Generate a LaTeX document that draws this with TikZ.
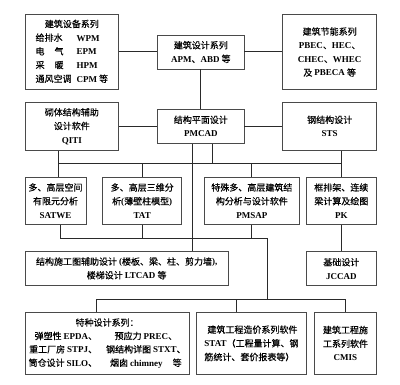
\documentclass[tikz,border=0pt]{standalone}
\usepackage{fontspec}
\setmainfont{Noto Sans CJK SC}[FakeBold=0.35]
\newfontfamily\latinfont{Liberation Serif}
\newcommand\ltn[1]{{\latinfont\bfseries #1}}
\definecolor{boxc}{HTML}{4A4A4A}
\definecolor{linec}{HTML}{2A2A2A}
\begin{document}
\begin{tikzpicture}[x=1pt,y=-1pt,
  box/.style={draw=boxc, line width=0.9pt, align=center, inner sep=0pt,
    font=\fontsize{9}{13.7}\selectfont},
  wire/.style={draw=linec, line width=1pt}]
\useasboundingbox[fill=white] (0,0) rectangle (400,385);

% row 1
\node[box, minimum width=93.7pt, minimum height=74.6pt] (A) at (71.85,52)
  {\begin{tabular}{@{}l@{\hspace{5pt}}l@{}}\multicolumn{2}{c}{建筑设备系列}\\
   给排水&\ltn{WPM}\\ 电\hspace{10pt}气&\ltn{EPM}\\ 采\hspace{10pt}暖&\ltn{HPM}\\
   通风空调&\ltn{CPM} 等\end{tabular}};
\node[box, minimum width=86.3pt, minimum height=34pt] (B) at (200.85,52)
  {建筑设计系列\\\ltn{APM}、\ltn{ABD} 等};
\node[box, minimum width=94pt, minimum height=74.6pt] (C) at (329.7,52)
  {建筑节能系列\\\ltn{PBEC}、\ltn{HEC}、\\\ltn{CHEC}、\ltn{WHEC}\\及 \ltn{PBECA} 等};

% row 2
\node[box, minimum width=93.7pt, minimum height=47.7pt] (D) at (71.85,126.3)
  {砌体结构辅助\\设计软件\\\ltn{QITI}};
\node[box, minimum width=86.3pt, minimum height=34pt] (E) at (200.85,126.3)
  {结构平面设计\\\ltn{PMCAD}};
\node[box, minimum width=94pt, minimum height=47.7pt] (F) at (329.7,126.3)
  {钢结构设计\\\ltn{STS}};

% row 3
\node[box, minimum width=61pt, minimum height=47pt] (G) at (55.5,200.8)
  {多、高层空间\\有限元分析\\\ltn{SATWE}};
\node[box, minimum width=79pt, minimum height=47pt] (H) at (142.2,200.8)
  {多、高层三维分\\析\ltn{(}薄壁柱模型\ltn{)}\\\ltn{TAT}};
\node[box, minimum width=94.3pt, minimum height=47pt] (I) at (251.85,200.8)
  {特殊多、高层建筑结\\构分析与设计软件\\\ltn{PMSAP}};
\node[box, minimum width=70.7pt, minimum height=47pt] (J) at (341.35,200.8)
  {框排架、连续\\梁计算及绘图\\\ltn{PK}};

% row 4
\node[box, minimum width=203.3pt, minimum height=34.7pt] (K) at (126.65,268.35)
  {结构施工图辅助设计 \ltn{(}楼板、梁、柱、剪力墙\ltn{),}\\楼梯设计 \ltn{LTCAD} 等};
\node[box, minimum width=70.7pt, minimum height=34pt] (L) at (341.35,268.7)
  {基础设计\\\ltn{JCCAD}};

% row 5
\node[box, minimum width=164.3pt, minimum height=61.3pt,
  font=\fontsize{9}{13.4}\selectfont] (M) at (107.15,343.35)
  {\begin{tabular}{@{}r@{\hspace{9pt}}c@{}}\multicolumn{2}{c}{特种设计系列：}\\
   弹塑性 \ltn{EPDA}、&预应力 \ltn{PREC}、\\
   重工厂房 \ltn{STPJ}、&钢结构详图 \ltn{STXT}、\\
   筒仓设计 \ltn{SILO}、&烟囱 \ltn{chimney}\hspace{10pt}等\end{tabular}};
\node[box, minimum width=110.4pt, minimum height=61.3pt, align=left] (N) at (251.5,343.35)
  {\hspace{3pt}建筑工程造价系列软件\\\ltn{STAT}（工程量计算、钢\\筋统计、套价报表等）};
\node[box, minimum width=62.4pt, minimum height=61.3pt] (O) at (345.5,343.35)
  {建筑工程施\\工系列软件\\\ltn{CMIS}};

% connectors
\draw[wire] (A) -- (B);
\draw[wire] (B) -- (C);
\draw[wire] (B) -- (E);
\draw[wire] (D) -- (E);
\draw[wire] (E) -- (F);

\coordinate (x1) at (58.7,164);
\coordinate (e1) at (212.3,0);
\coordinate (e2) at (192,0);
\draw[wire] (D.south -| x1) -- (G.north -| x1);
\draw[wire] (F.south -| J) -- (J.north);
\draw[wire] (x1) -- (J.center |- x1);
\draw[wire] (H.north) -- (H.north |- x1);
\draw[wire] (I.north) -- (I.north |- x1);
\draw[wire] (E.south -| e1) -- (e1 |- x1);
\draw[wire] (E.south -| e2) -- (K.north -| e2);

\coordinate (y2) at (60.3,239);
\coordinate (t2) at (267.7,239);
\coordinate (t3) at (267.7,299.3);
\coordinate (m3) at (96,299.3);
\coordinate (n3) at (236,0);
\draw[wire] (G.south -| y2) -- (y2) -- (t2);
\draw[wire] (H.south) -- (H.south |- y2);
\draw[wire] (I.south) -- (I.south |- y2);
\draw[wire] (t2) -- (t3);
\draw[wire] (m3) -- (O.north |- m3);
\draw[wire] (m3) -- (M.north -| m3);
\draw[wire] (n3 |- m3) -- (N.north -| n3);
\draw[wire] (O.north |- m3) -- (O.north);
\draw[wire] (J.south) -- (L.north);
\end{tikzpicture}
\end{document}
